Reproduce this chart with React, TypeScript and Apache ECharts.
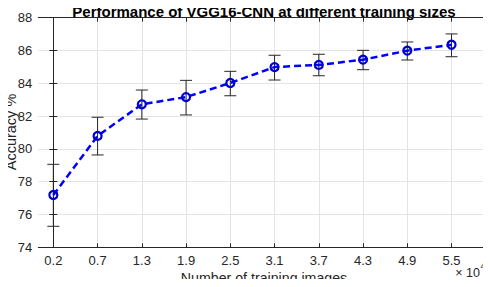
import React, { useEffect, useRef } from "react";
import * as echarts from "echarts";

const categories = ["0.2", "0.7", "1.3", "1.9", "2.5", "3.1", "3.7", "4.3", "4.9", "5.5"];
const accuracy = [77.19, 80.79, 82.72, 83.16, 84.02, 84.99, 85.12, 85.44, 85.99, 86.35];
const errLow = [75.28, 79.63, 81.82, 82.07, 83.24, 84.2, 84.46, 84.83, 85.42, 85.62];
const errHigh = [79.06, 81.93, 83.59, 84.18, 84.73, 85.71, 85.77, 86.01, 86.52, 87.01];
const yTicks = [74, 76, 78, 80, 82, 84, 86, 88];

const FONT = "'Liberation Sans', Arial, Helvetica, sans-serif";
const AX = "#262626";
const GRID = "#e4e4e4";

function label(x: number, y: number, text: string, size: number, opts: any = {}) {
  return {
    type: "text",
    x,
    y,
    rotation: opts.rotation || 0,
    style: {
      text,
      fontFamily: FONT,
      fontSize: size,
      fontWeight: opts.bold ? "bold" : "normal",
      fill: opts.fill || AX,
      align: opts.align || "center",
      verticalAlign: "middle",
    },
  };
}

export default function App() {
  const ref = useRef<HTMLDivElement>(null);
  useEffect(() => {
    if (!ref.current) return;
    const chart = echarts.init(ref.current, undefined, { renderer: "svg" });
    const idx = categories.map((_, i) => i);
    const xMin = -0.34;
    const xMax = 9.84;
    const baseX = {
      type: "value",
      min: xMin,
      max: xMax,
      axisLine: { show: true, lineStyle: { color: AX, width: 1 } },
      axisTick: { show: true, inside: true, length: 4, customValues: idx, lineStyle: { color: AX } },
      splitLine: { show: false },
    };
    chart.setOption({
      animation: false,
      backgroundColor: "#ffffff",
      grid: { left: 38.3, right: 2.3, top: 17.7, bottom: 39.7, containLabel: false, outerBoundsMode: "none" },
      xAxis: [
        {
          ...baseX,
          position: "bottom",
          axisLabel: {
            show: true,
            customValues: idx,
            margin: 7,
            fontFamily: FONT,
            fontSize: 13,
            color: AX,
            formatter: (v: number) => categories[Math.round(v)] ?? "",
          },
          splitLine: { show: true, lineStyle: { color: GRID, width: 1 } },
        },
        {
          ...baseX,
          position: "top",
          axisLabel: { show: false },
        },
      ],
      yAxis: [
        {
          type: "value",
          min: yTicks[0],
          max: yTicks[yTicks.length - 1],
          interval: 2,
          position: "left",
          axisLine: { show: true, lineStyle: { color: AX } },
          axisTick: { show: true, inside: true, length: 4, lineStyle: { color: AX } },
          axisLabel: { fontFamily: FONT, fontSize: 13, color: AX, margin: 6 },
          splitLine: { show: true, lineStyle: { color: GRID, width: 1 } },
        },
        {
          type: "value",
          min: yTicks[0],
          max: yTicks[yTicks.length - 1],
          interval: 2,
          position: "right",
          axisLine: { show: true, lineStyle: { color: AX } },
          axisTick: { show: true, inside: true, length: 4, lineStyle: { color: AX } },
          axisLabel: { show: false },
          splitLine: { show: false },
        },
      ],
      graphic: [
        label(264, 11.5, "Performance of VGG16-CNN at different training sizes", 15, { bold: true, fill: "#000" }),
        label(264, 277.5, "Number of training images", 14.2),
        label(10.5, 132, "Accuracy %", 14.5, { rotation: Math.PI / 2 }),
        label(480, 273, "× 10", 12.5, { align: "right" }),
        label(480.5, 266, "4", 8.8, { align: "left" }),
      ],
      series: [
        {
          type: "custom",
          xAxisIndex: 0,
          yAxisIndex: 0,
          data: idx.map((i) => [i, errLow[i], errHigh[i]]),
          renderItem: (params: any, api: any) => {
            const x = api.value(0);
            const lo = api.coord([x, api.value(1)]);
            const hi = api.coord([x, api.value(2)]);
            const cap = 6;
            const style = { stroke: "#262626", lineWidth: 1, fill: "none" };
            return {
              type: "group",
              children: [
                { type: "line", shape: { x1: lo[0], y1: lo[1], x2: hi[0], y2: hi[1] }, style },
                { type: "line", shape: { x1: lo[0] - cap, y1: lo[1], x2: lo[0] + cap, y2: lo[1] }, style },
                { type: "line", shape: { x1: hi[0] - cap, y1: hi[1], x2: hi[0] + cap, y2: hi[1] }, style },
              ],
            };
          },
          z: 2,
        },
        {
          type: "line",
          xAxisIndex: 0,
          yAxisIndex: 0,
          data: idx.map((i) => [i, accuracy[i]]),
          symbol: "circle",
          symbolSize: 8,
          showSymbol: true,
          lineStyle: { color: "#0000ff", width: 2.5, type: [7, 4] },
          itemStyle: { color: "rgba(0,0,0,0)", borderColor: "#0000cc", borderWidth: 2.2 },
          z: 3,
        },
      ],
    });
    return () => chart.dispose();
  }, []);
  return <div ref={ref} style={{ width: 491, height: 287, margin: -8 }} />;
}
